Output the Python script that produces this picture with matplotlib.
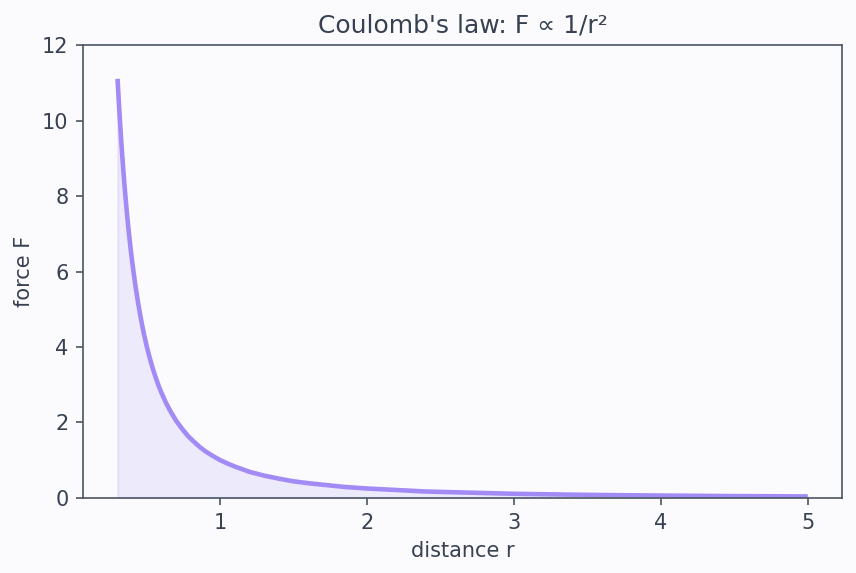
import matplotlib
matplotlib.use("Agg")
import matplotlib.pyplot as plt

# values
r = [0.30, 0.31, 0.32, 0.33, 0.34, 0.35, 0.36, 0.37, 0.38, 0.39, 0.40, 0.42,
     0.44, 0.46, 0.48, 0.50, 0.52, 0.54, 0.56, 0.58, 0.60, 0.63, 0.66, 0.70,
     0.74, 0.78, 0.82, 0.86, 0.90, 0.95, 1.00, 1.05, 1.10, 1.15, 1.20, 1.30,
     1.40, 1.50, 1.60, 1.70, 1.85, 2.00, 2.20, 2.40, 2.60, 2.80, 3.00, 3.30,
     3.60, 4.00, 4.50, 5.00]
F = [11.11, 10.41, 9.77, 9.18, 8.65, 8.16, 7.72, 7.30, 6.93, 6.57, 6.25, 5.67,
     5.17, 4.73, 4.34, 4.00, 3.70, 3.43, 3.19, 2.97, 2.78, 2.52, 2.30, 2.04,
     1.83, 1.64, 1.49, 1.35, 1.23, 1.11, 1.00, 0.91, 0.83, 0.76, 0.69, 0.59,
     0.51, 0.44, 0.39, 0.35, 0.29, 0.25, 0.21, 0.17, 0.15, 0.13, 0.11, 0.092,
     0.077, 0.063, 0.049, 0.040]

bg = "#fbfbfe"
txt = "#374151"
spine = "#4b5563"
purple = "#a38bf6"

fig = plt.figure(figsize=(856/150, 573/150), dpi=150, facecolor=bg)
ax = fig.add_axes([0.097, 0.131, 0.887, 0.790])
ax.set_facecolor(bg)

ax.fill_between(r, F, 0, color=purple, alpha=0.15, linewidth=1)
ax.plot(r, F, color=purple, linewidth=2.2, solid_capstyle="butt")

ax.set_ylim(0, 12)
ax.set_xticks([1, 2, 3, 4, 5])
ax.set_title("Coulomb's law: F \u221d 1/r\u00b2", fontsize=12, color=txt)
ax.set_xlabel("distance r", fontsize=10, color=txt)
ax.set_ylabel("force F", fontsize=10, color=txt)
ax.tick_params(colors=spine, labelcolor=txt, labelsize=10)
for s in ax.spines.values():
    s.set_color(spine)

fig.savefig("out.png", dpi=150, facecolor=bg)
